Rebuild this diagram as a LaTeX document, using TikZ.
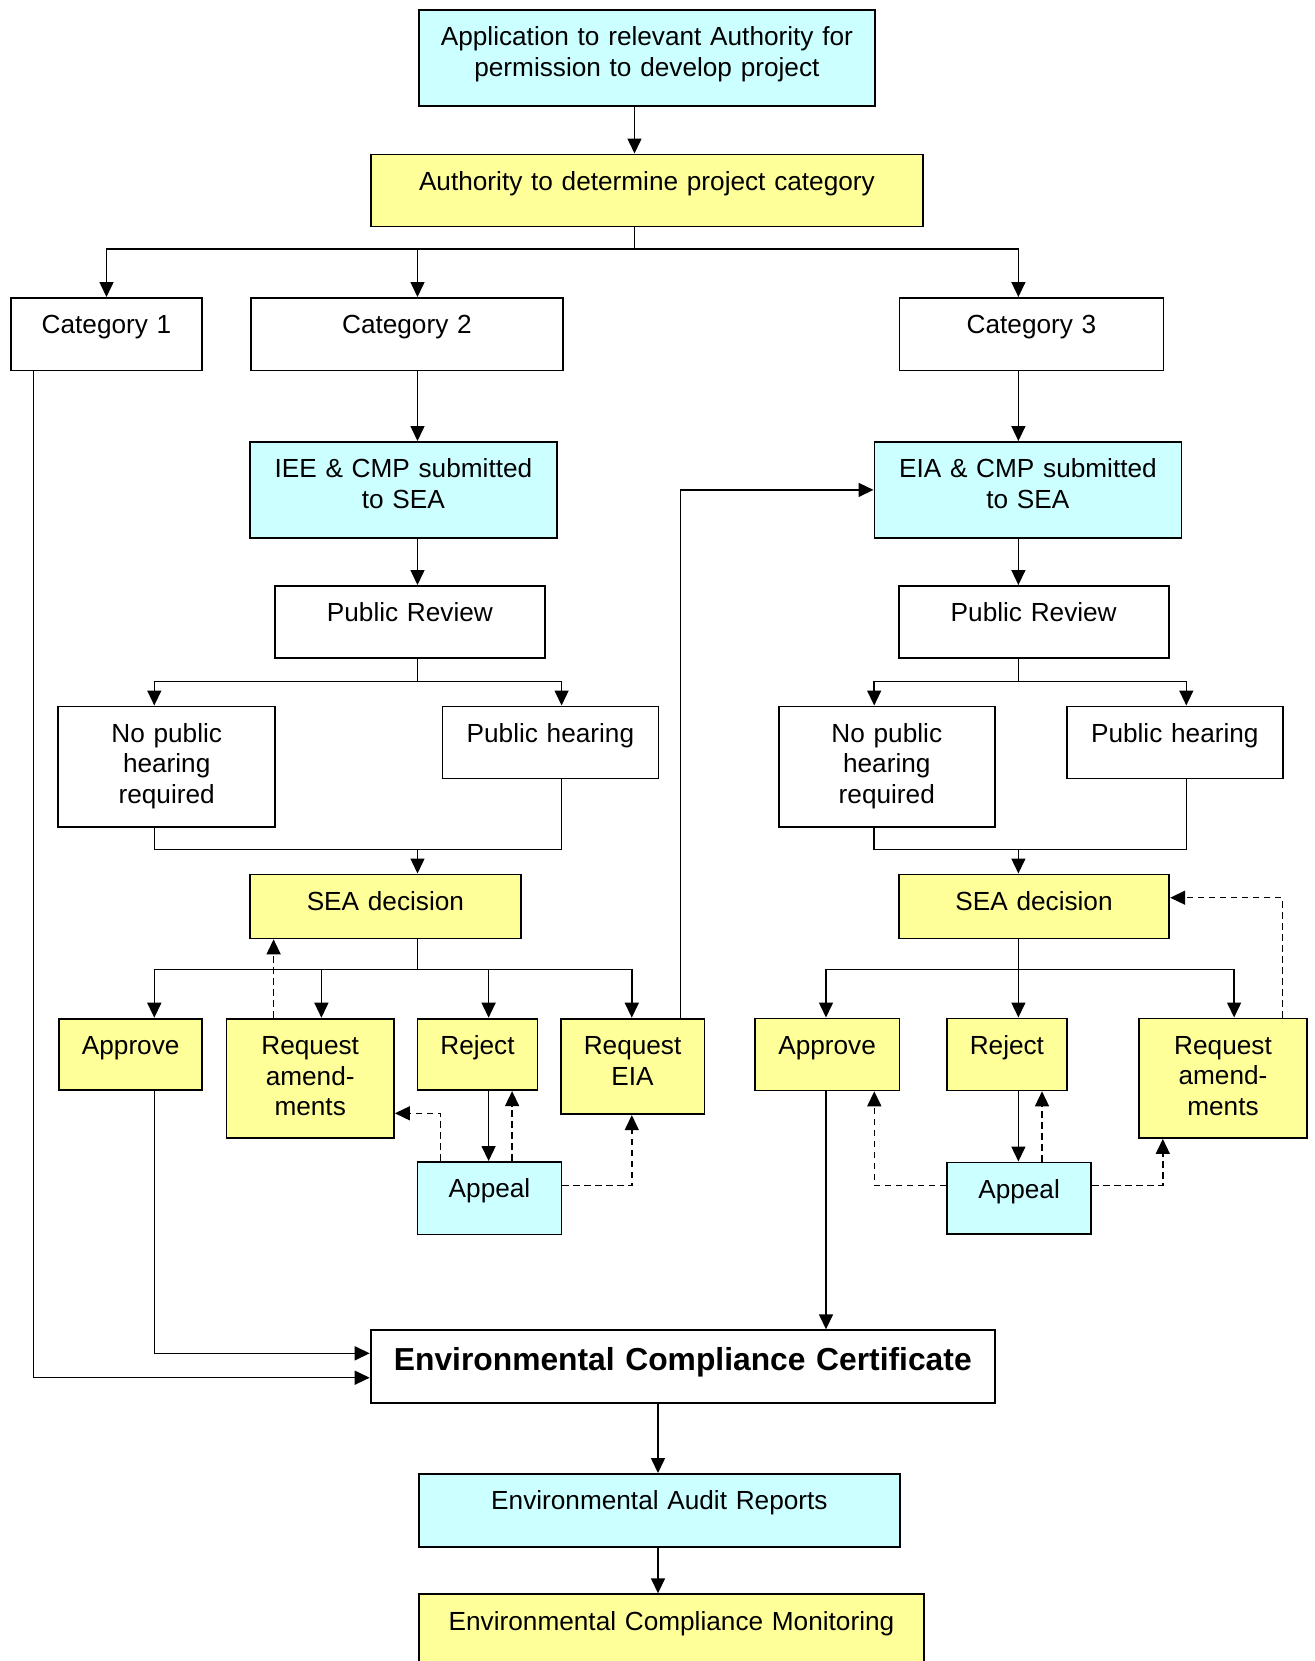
\documentclass[tikz,border=0pt]{standalone}
\usepackage{fontspec}
\setmainfont{Liberation Sans}
\usetikzlibrary{arrows.meta}
\definecolor{paleblue}{HTML}{CCFFFF}
\definecolor{paleyellow}{HTML}{FFFF99}

\begin{document}
\begin{tikzpicture}[
   x=0.5pt, y=-0.5pt,
   box/.style={draw, line width=0.9pt, anchor=north west, inner sep=0pt, align=center,
      text height=18pt, font=\fontsize{13.1}{15.2}\selectfont},
   cyanbox/.style={box, fill=paleblue},
   yellowbox/.style={box, fill=paleyellow},
   link/.style={line width=0.75pt},
   arrow/.style={link, -{Triangle[length=7.5pt,width=7pt]}},
   dasharrow/.style={arrow, dash pattern=on 3.3pt off 2.2pt}
]
\useasboundingbox (0,0) rectangle (1314,1661);

% Nodes
\node[cyanbox, text width=228pt, text depth=30pt] (app) at (418,9) {Application to relevant Authority for\\permission to develop project};
\node[yellowbox, text width=276pt, text depth=18pt] (auth) at (370,153.5) {Authority to determine project category};
\node[box, text width=95.6pt, text depth=18.3pt] (cat1) at (10,297) {Category 1};
\node[box, text width=156pt, text depth=18.3pt] (cat2) at (250,297) {Category 2};
\node[box, text width=132pt, text depth=18.3pt] (cat3) at (898.6,297) {Category 3};
\node[cyanbox, text width=153.5pt, text depth=30pt] (iee) at (249,441) {IEE \& CMP submitted\\to SEA};
\node[cyanbox, text width=153.5pt, text depth=30pt] (eia) at (873.5,441) {EIA \& CMP submitted\\to SEA};
\node[box, text width=135.3pt, text depth=18pt] (rev2) at (273.7,585) {Public Review};
\node[box, text width=135.1pt, text depth=18pt] (rev3) at (897.7,585) {Public Review};
\node[box, text width=108.5pt, text depth=42.2pt] (nohear2) at (57.3,705.5) {No public\\hearing\\required};
\node[box, text width=108pt, text depth=18pt] (hear2) at (441.5,705.5) {Public hearing};
\node[box, text width=108pt, text depth=42.2pt] (nohear3) at (777.9,705.5) {No public\\hearing\\required};
\node[box, text width=108.2pt, text depth=18pt] (hear3) at (1065.7,705.5) {Public hearing};
\node[yellowbox, text width=135.5pt, text depth=14pt] (dec2) at (249,873.5) {SEA decision};
\node[yellowbox, text width=135.3pt, text depth=14pt] (dec3) at (897.8,873.5) {SEA decision};
\node[yellowbox, text width=71.5pt, text depth=17.8pt] (ok2) at (58.3,1017.7) {Approve};
\node[yellowbox, text width=83.8pt, text depth=41.8pt] (amend2) at (225.5,1017.7) {Request\\amend-\\ments};
\node[yellowbox, text width=60pt, text depth=17.8pt] (rej2) at (416.6,1017.7) {Reject};
\node[yellowbox, text width=71.8pt, text depth=29.8pt] (reqeia) at (559.9,1017.7) {Request\\EIA};
\node[cyanbox, text width=72pt, text depth=18.3pt] (appeal2) at (416.6,1161) {Appeal};
\node[yellowbox, text width=72.3pt, text depth=18pt] (ok3) at (753.9,1017.5) {Approve};
\node[yellowbox, text width=59.9pt, text depth=18pt] (rej3) at (946.1,1017.5) {Reject};
\node[yellowbox, text width=84.2pt, text depth=41.8pt] (amend3) at (1137.9,1017.5) {Request\\amend-\\ments};
\node[cyanbox, text width=72.1pt, text depth=17.8pt] (appeal3) at (946.1,1161.5) {Appeal};
\node[box, text width=312.2pt, text height=20pt, text depth=16.2pt, font=\fontsize{15.9}{19}\selectfont\bfseries] (ecc) at (369.7,1329.3) {Environmental Compliance Certificate};
\node[cyanbox, text width=240.2pt, text depth=18.5pt] (audit) at (418.3,1473) {Environmental Audit Reports};
\node[yellowbox, text width=252.3pt, text depth=18pt] (monitor) at (418.3,1593.3) {Environmental Compliance Monitoring};

% Junctions
\coordinate (split) at (634.5,249);
\coordinate (split2) at (417.5,681.4);
\coordinate (join2) at (417.5,849.3);
\coordinate (fork2) at (417.5,969.3);
\coordinate (split3) at (1018.4,681.4);
\coordinate (join3) at (1018.4,849.3);
\coordinate (fork3) at (1018.4,969.3);
\coordinate (rail1) at (33.5,1377.7);
\coordinate (rail2) at (154.3,1353.3);

% Edges
\draw[arrow] (app.south -| split) -- (auth.north -| split);
\draw[link] (auth.south -| split) -- (split);
\draw[arrow] (split) -| (cat1.north);
\draw[arrow] (split) -| (cat2.north -| split2);
\draw[arrow] (split) -| (cat3.north -| split3);
\draw[arrow] (cat1.south -| rail1) |- (ecc.west |- rail1);

% Category 2
\draw[arrow] (cat2.south -| split2) -- (iee.north -| split2);
\draw[arrow] (iee.south -| split2) -- (rev2.north -| split2);
\draw[link] (rev2.south -| split2) -- (split2);
\draw[arrow] (split2) -| (nohear2.north -| rail2);
\draw[arrow] (split2) -| (hear2.north -| 561.6,0);
\draw[link] (nohear2.south -| rail2) |- (join2) -| (hear2.south -| 561.6,0);
\draw[arrow] (join2) -- (dec2.north -| join2);
\draw[link] (dec2.south -| fork2) -- (fork2);
\draw[arrow] (fork2) -| (ok2.north -| rail2);
\draw[arrow] (fork2) -| (amend2.north -| 321.4,0);
\draw[arrow] (fork2) -| (rej2.north -| 488.6,0);
\draw[arrow] (fork2) -| (reqeia.north -| 631.8,0);
\draw[dasharrow] (amend2.north -| 273.6,0) -- (dec2.south -| 273.6,0);
\draw[arrow] (rej2.south -| 488.6,0) -- (appeal2.north -| 488.6,0);
\draw[dasharrow] (appeal2.north -| 512.1,0) -- (rej2.south -| 512.1,0);
\draw[dasharrow] (appeal2.north -| 440.5,0) |- (amend2.east |- 0,1113.3);
\draw[dasharrow] (appeal2.east |- 0,1185.7) -| (reqeia.south -| 631.8,0);
\draw[arrow] (reqeia.north -| 680.5,0) |- (eia.west);
\draw[arrow] (ok2.south -| rail2) |- (ecc.west |- rail2);

% Category 3
\draw[arrow] (cat3.south -| split3) -- (eia.north -| split3);
\draw[arrow] (eia.south -| split3) -- (rev3.north -| split3);
\draw[link] (rev3.south -| split3) -- (split3);
\draw[arrow] (split3) -| (nohear3.north -| 874.2,0);
\draw[arrow] (split3) -| (hear3.north -| 1186.3,0);
\draw[link] (nohear3.south -| 874.2,0) |- (join3) -| (hear3.south -| 1186.3,0);
\draw[arrow] (join3) -- (dec3.north -| join3);
\draw[link] (dec3.south -| fork3) -- (fork3);
\draw[arrow] (fork3) -| (ok3.north -| 826,0);
\draw[arrow] (fork3) -- (rej3.north -| fork3);
\draw[arrow] (fork3) -| (amend3.north -| 1234.1,0);
\draw[dasharrow] (amend3.north -| 1282.5,0) |- (dec3.east |- 0,897.7);
\draw[arrow] (rej3.south -| fork3) -- (appeal3.north -| fork3);
\draw[dasharrow] (appeal3.north -| 1042,0) -- (rej3.south -| 1042,0);
\draw[dasharrow] (appeal3.west |- 0,1185.3) -| (ok3.south -| 874.3,0);
\draw[dasharrow] (appeal3.east |- 0,1185.3) -| (amend3.south -| 1162.8,0);
\draw[arrow] (ok3.south -| 826,0) -- (ecc.north -| 826,0);

% Follow-up
\draw[arrow] (ecc.south -| 658,0) -- (audit.north -| 658,0);
\draw[arrow] (audit.south -| 658,0) -- (monitor.north -| 658,0);

\end{tikzpicture}
\end{document}
